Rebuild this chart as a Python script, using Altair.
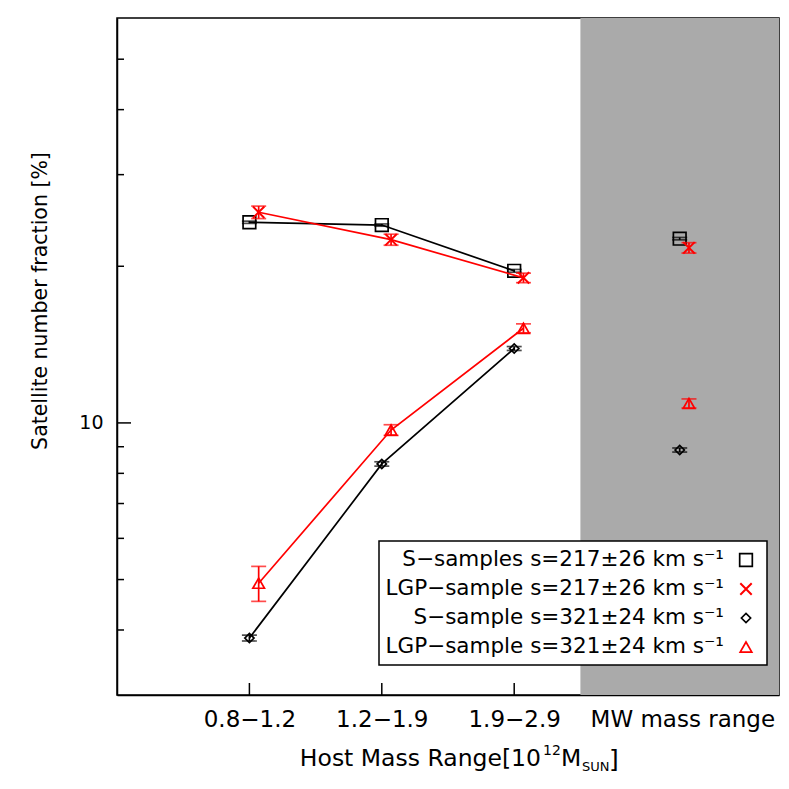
import altair as alt
import pandas as pd

# ---------------- data ----------------
categories = ["0.8\u22121.2", "1.2\u22121.9", "1.9\u22122.9", "MW mass range"]
cat_x = [1, 2, 3, 4.25]
red_offset = 0.07

s217 = [24.3, 24.0, 19.6, 22.6]
s217_err = [0.12, 0.12, 0.12, 0.12]
lgp217 = [25.4, 22.5, 19.0, 21.7]
lgp217_err = [0.7, 0.55, 0.4, 0.5]
s321 = [3.86, 8.34, 13.9, 8.87]
s321_err = [0.05, 0.08, 0.12, 0.08]
lgp321 = [4.92, 9.69, 15.2, 10.9]
lgp321_err = [0.38, 0.23, 0.3, 0.22]

legend_labels = [
    "S\u2212samples s=217\u00b126 km s\u207b\u00b9",
    "LGP\u2212sample s=217\u00b126 km s\u207b\u00b9",
    "S\u2212sample s=321\u00b124 km s\u207b\u00b9",
    "LGP\u2212sample s=321\u00b124 km s\u207b\u00b9",
]

y_minor_ticks = [4, 5, 6, 7, 8, 9, 20, 30, 40, 50]
y_major_ticks = [10]

W, H = 662, 677
FONT = "DejaVu Sans"
CROSS = "M-1,-1L1,1M-1,1L1,-1"

xscale = alt.Scale(domain=[0, 5], nice=False, zero=False)
yscale = alt.Scale(type="log", domain=[3, 60], nice=False)


def series_df(vals, errs, offset):
    return pd.DataFrame({
        "x": [c + offset for c in cat_x],
        "y": vals,
        "lo": [v - e for v, e in zip(vals, errs)],
        "hi": [v + e for v, e in zip(vals, errs)],
        "cat": categories,
    })


series = [
    (series_df(s217, s217_err, 0.0), "black", "square", 160, 1.7),
    (series_df(lgp217, lgp217_err, red_offset), "red", CROSS, 130, 2.0),
    (series_df(s321, s321_err, 0.0), "black", "diamond", 85, 1.7),
    (series_df(lgp321, lgp321_err, red_offset), "red", "triangle-up", 135, 1.7),
]

X = alt.X("x:Q", scale=xscale, axis=alt.Axis(
    values=[1, 2, 3, 4.27], ticks=False, grid=False, title=None,
    labelExpr="datum.value < 1.5 ? '0.8\u22121.2' : datum.value < 2.5 ? '1.2\u22121.9' : datum.value < 3.5 ? '1.9\u22122.9' : 'MW mass range'",
    labelFont=FONT, labelFontSize=23, labelColor="black", labelPadding=13,
    labelLimit=400, labelOverlap=False,
    domainColor="black", domainWidth=1.5, labelFlush=False))
Y = alt.Y("y:Q", scale=yscale, axis=alt.Axis(
    values=[10], ticks=False, grid=False, title=None,
    labelFont=FONT, labelFontSize=19, labelColor="black", labelPadding=14,
    domainColor="black", domainWidth=1.5))

layers = []

# grey MW band
band = pd.DataFrame({"x0": [3.5], "x1": [5]})
layers.append(alt.Chart(band).mark_rect(color="#aaaaaa").encode(
    x=alt.X("x0:Q", scale=xscale), x2="x1:Q", y=alt.value(0), y2=alt.value(H)))

# axis ticks drawn inward
layers.append(alt.Chart(pd.DataFrame({"y": y_minor_ticks})).mark_rule(color="black", strokeWidth=1.5).encode(
    y=alt.Y("y:Q", scale=yscale), x=alt.value(0), x2=alt.value(7)))
layers.append(alt.Chart(pd.DataFrame({"y": y_major_ticks})).mark_rule(color="black", strokeWidth=1.5).encode(
    y=alt.Y("y:Q", scale=yscale), x=alt.value(0), x2=alt.value(14)))
layers.append(alt.Chart(pd.DataFrame({"x": cat_x[:3]})).mark_rule(color="black", strokeWidth=1.5).encode(
    x=alt.X("x:Q", scale=xscale), y=alt.value(H), y2=alt.value(H - 12)))

first = True
for df, color, shape, size, sw in series:
    line_df = df[df["x"] < 3.5]
    base_line = alt.Chart(line_df).mark_line(color=color, strokeWidth=1.7)
    if first:
        layers.append(base_line.encode(x=X, y=Y))
        first = False
    else:
        layers.append(base_line.encode(x=alt.X("x:Q", scale=xscale), y=alt.Y("y:Q", scale=yscale)))
    # error bars
    layers.append(alt.Chart(df).mark_rule(color=color, strokeWidth=1.7).encode(
        x=alt.X("x:Q", scale=xscale), y=alt.Y("lo:Q", scale=yscale), y2="hi:Q"))
    for f in ["lo", "hi"]:
        layers.append(alt.Chart(df).mark_tick(color=color, orient="horizontal", size=15, thickness=1.7).encode(
            x=alt.X("x:Q", scale=xscale), y=alt.Y(f + ":Q", scale=yscale)))
    layers.append(alt.Chart(df).mark_point(shape=shape, filled=False, color=color, size=size,
                                           strokeWidth=sw, opacity=1).encode(
        x=alt.X("x:Q", scale=xscale), y=alt.Y("y:Q", scale=yscale)))

one = alt.Data(values=[{"a": 1}])

# legend box
layers.append(alt.Chart(one).mark_rect(fill="white", stroke="black", strokeWidth=1.5).encode(
    x=alt.value(262), x2=alt.value(650), y=alt.value(523), y2=alt.value(647)))
leg_y = [542, 571, 600, 629]
for lab, (df, color, shape, size, sw), yy in zip(legend_labels, series, leg_y):
    layers.append(alt.Chart(one).mark_text(align="right", baseline="middle", font=FONT, fontSize=21.5,
                                           color="black", text=lab).encode(
        x=alt.value(607), y=alt.value(yy)))
    layers.append(alt.Chart(one).mark_point(shape=shape, filled=False, color=color, size=size,
                                            strokeWidth=sw, opacity=1).encode(
        x=alt.value(629), y=alt.value(yy)))

# axis titles
layers.append(alt.Chart(one).mark_text(angle=270, align="center", baseline="middle", font=FONT,
                                       fontSize=20.5, color="black",
                                       text="Satellite number fraction [%]").encode(
    x=alt.value(-76), y=alt.value(283)))
xt = [
    ("Host Mass Range[10", "right", 23.5, 424, 748),
    ("12", "left", 14, 426, 737),
    ("M", "left", 23.5, 444, 748),
    ("SUN", "left", 13, 465, 753),
    ("]", "left", 25, 492, 750),
]
for txt, al, fs, xx, yy in xt:
    layers.append(alt.Chart(one).mark_text(align=al, baseline="alphabetic", font=FONT, fontSize=fs,
                                           color="black", text=txt).encode(
        x=alt.value(xx), y=alt.value(yy)))

chart = alt.layer(*layers).properties(
    width=W, height=H,
    autosize=alt.AutoSizeParams(type="none"),
    padding={"left": 109, "top": 10, "right": 2, "bottom": 86},
).configure_view(stroke="black", strokeWidth=1.5)

chart.save("out.html", embed_options={"renderer": "svg", "actions": False})
